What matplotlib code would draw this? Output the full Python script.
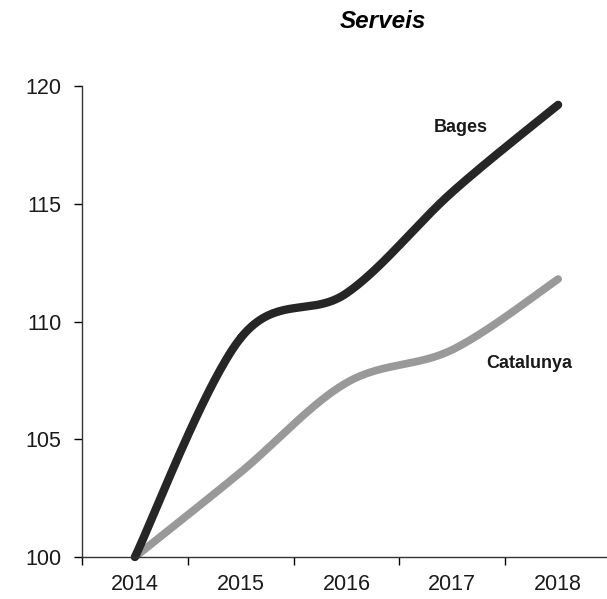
import numpy as np
import matplotlib.pyplot as plt

plt.rcParams['font.family'] = ['Liberation Sans', 'DejaVu Sans']

years = ['2014', '2015', '2016', '2017', '2018']
bages = [100.0, 109.3, 111.2, 115.5, 119.2]
catalunya = [100.0, 103.6, 107.4, 108.8, 111.8]


def smooth(xs, ys, n=40):
    # Catmull-Rom curve through the points, like Excel's smoothed line
    p = np.column_stack([xs, ys]).astype(float)
    p = np.vstack([p[0], p, p[-1]])
    out = []
    t = np.linspace(0, 1, n)[:, None]
    for i in range(1, len(p) - 2):
        p0, p1, p2, p3 = p[i - 1], p[i], p[i + 1], p[i + 2]
        seg = 0.5 * ((2 * p1) + (-p0 + p2) * t + (2 * p0 - 5 * p1 + 4 * p2 - p3) * t ** 2
                     + (-p0 + 3 * p1 - 3 * p2 + p3) * t ** 3)
        out.append(seg)
    out = np.vstack(out)
    return out[:, 0], out[:, 1]


fig = plt.figure(figsize=(6.07, 5.99), dpi=100)
ax = fig.add_axes([82 / 607, 42 / 599, 529 / 607, 471 / 599])

x = np.arange(len(years))
bx, by = smooth(x, bages)
cx, cy = smooth(x, catalunya)
ax.plot(cx, cy, color='#999999', lw=5.6, solid_capstyle='round', clip_on=False)
ax.plot(bx, by, color='#262626', lw=6.0, solid_capstyle='round', clip_on=False)

ax.set_xlim(-0.5, len(years) - 0.5)
ax.set_ylim(100, 120)
ax.set_yticks([100, 105, 110, 115, 120])
ax.set_xticks(x)
ax.set_xticklabels(years)
ax.set_xticks(np.arange(-0.5, len(years), 1), minor=True)
ax.tick_params(axis='x', which='major', length=0, pad=12, labelsize=15.5, labelcolor='#1a1a1a')
ax.tick_params(axis='x', which='minor', length=6, width=1, direction='out')
ax.tick_params(axis='y', length=6, width=1, labelsize=15.5, pad=9, labelcolor='#1a1a1a')

for s in ['top', 'right']:
    ax.spines[s].set_visible(False)
ax.spines['left'].set_linewidth(1)
ax.spines['bottom'].set_linewidth(1)
ax.spines['left'].set_color('#333333')
ax.spines['bottom'].set_color('#333333')

ax.text(3.08, 118.25, 'Bages', fontsize=13, fontweight='bold', ha='center', va='center',
        color='#1a1a1a')
ax.text(3.73, 108.2, 'Catalunya', fontsize=13, fontweight='bold', ha='center', va='center',
        color='#1a1a1a')

fig.text(383 / 607, 1 - 22 / 599, 'Serveis', fontsize=17.5, fontweight='bold',
         fontstyle='italic', ha='center', va='center')

fig.savefig('out.png', dpi=100)
